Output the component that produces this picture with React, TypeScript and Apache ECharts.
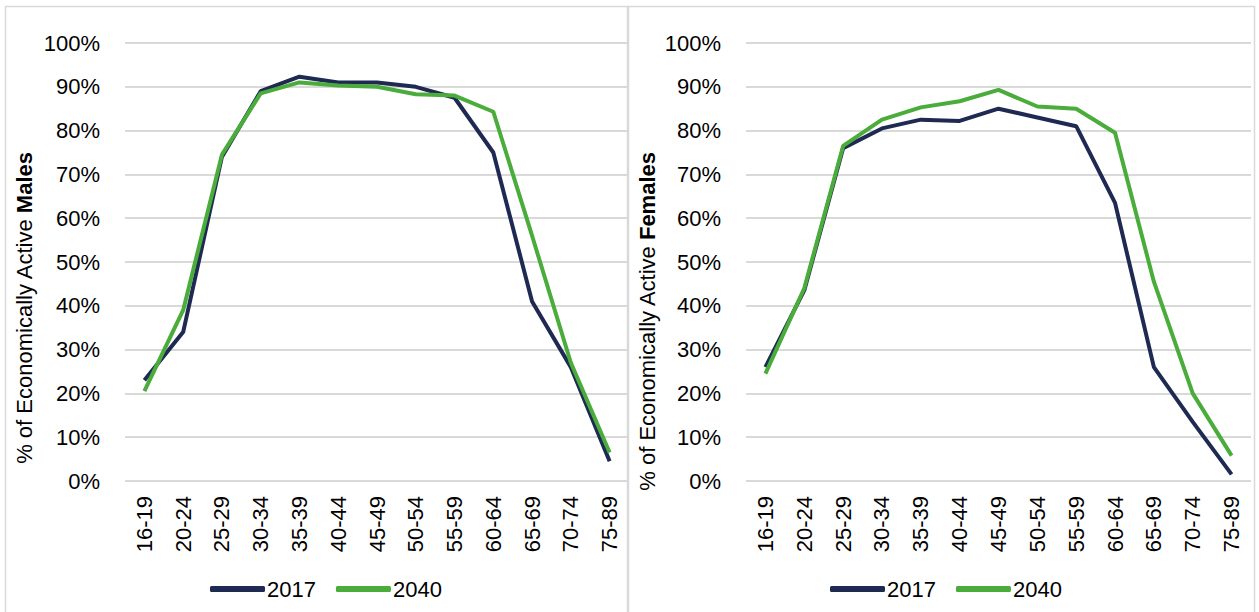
import React, { useEffect, useRef } from "react";
import * as echarts from "echarts";

const ageGroups = ["16-19", "20-24", "25-29", "30-34", "35-39", "40-44", "45-49", "50-54", "55-59", "60-64", "65-69", "70-74", "75-89"];
const years = ["2017", "2040"];
const males2017 = [23, 34, 74, 89, 92.3, 91, 91, 90, 87.5, 75, 41, 26, 4.5];
const males2040 = [20.5, 39, 74.5, 88.5, 91, 90.3, 90, 88.3, 88, 84.3, 56, 27, 6.5];
const females2017 = [26, 43.5, 76, 80.5, 82.5, 82.2, 85, 83, 81, 63.5, 26, 13.5, 1.5];
const females2040 = [24.5, 44, 76.5, 82.5, 85.3, 86.7, 89.3, 85.5, 85, 79.5, 45.5, 20, 5.8];

const NAVY = "#1f2a52";
const GREEN = "#4aac3a";
const FONT = "'Liberation Sans', Arial, sans-serif";

export default function App() {
  const ref = useRef<HTMLDivElement>(null);
  useEffect(() => {
    if (!ref.current) return;
    const chart = echarts.init(ref.current, undefined, { renderer: "svg" });
    const yAxis = (idx: number) => ({
      type: "value",
      gridIndex: idx,
      min: 0,
      max: 100,
      interval: 10,
      axisLabel: { formatter: "{value}%", fontSize: 22, color: "#000", fontFamily: FONT, margin: 25 },
      axisLine: { show: false },
      axisTick: { show: false },
      splitLine: { lineStyle: { color: "#d9d9d9", width: 2 } },
    });
    const xAxis = (idx: number) => ({
      type: "category",
      gridIndex: idx,
      data: ageGroups,
      boundaryGap: true,
      axisLabel: { rotate: 90, fontSize: 22, color: "#000", fontFamily: FONT, margin: 15, interval: 0 },
      axisLine: { show: false },
      axisTick: { show: false },
    });
    const line = (name: string, data: number[], color: string, idx: number) => ({
      type: "line",
      name,
      data,
      xAxisIndex: idx,
      yAxisIndex: idx,
      symbol: "none",
      lineStyle: { color, width: 4 },
      itemStyle: { color },
      z: name === "2040" ? 3 : 2,
    });
    const legend = (left: number) => ({
      data: years,
      left,
      top: 573,
      icon: "roundRect",
      itemWidth: 55,
      itemHeight: 6,
      itemGap: 20,
      textStyle: { fontSize: 22, color: "#000", fontFamily: FONT, padding: [0, 0, 0, -3] },
    });
    const axisTitle = (x: number, sex: string) => ({
      type: "text",
      x,
      y: 152,
      rotation: Math.PI / 2,
      silent: true,
      style: {
        text: `{n|% of Economically Active }{b|${sex}}`,
        align: "right",
        verticalAlign: "middle",
        rich: {
          n: { fontSize: 22, fontFamily: FONT, fill: "#000", color: "#000" },
          b: { fontSize: 22, fontFamily: FONT, fill: "#000", color: "#000", fontWeight: "bold" },
        },
      },
    });
    chart.setOption({
      animation: false,
      backgroundColor: "#fff",
      graphic: [
        { type: "rect", shape: { x: 5.5, y: 6.5, width: 622, height: 620 }, style: { fill: "none", stroke: "#d9d9d9", lineWidth: 1.5 }, silent: true },
        { type: "rect", shape: { x: 628.5, y: 6.5, width: 626, height: 620 }, style: { fill: "none", stroke: "#d9d9d9", lineWidth: 1.5 }, silent: true },
        axisTitle(24, "Males"),
        axisTitle(647, "Females"),
      ],
      grid: [
        { left: 125, top: 43, width: 504, height: 438 },
        { left: 746, top: 43, width: 505, height: 438 },
      ],
      xAxis: [xAxis(0), xAxis(1)],
      yAxis: [yAxis(0), yAxis(1)],
      legend: [legend(205), legend(825)],
      series: [
        line("2017", males2017, NAVY, 0),
        line("2040", males2040, GREEN, 0),
        line("2017", females2017, NAVY, 1),
        line("2040", females2040, GREEN, 1),
      ],
    });
    return () => chart.dispose();
  }, []);
  return <div ref={ref} style={{ width: 1259, height: 612, position: "absolute", left: 0, top: 0 }} />;
}
